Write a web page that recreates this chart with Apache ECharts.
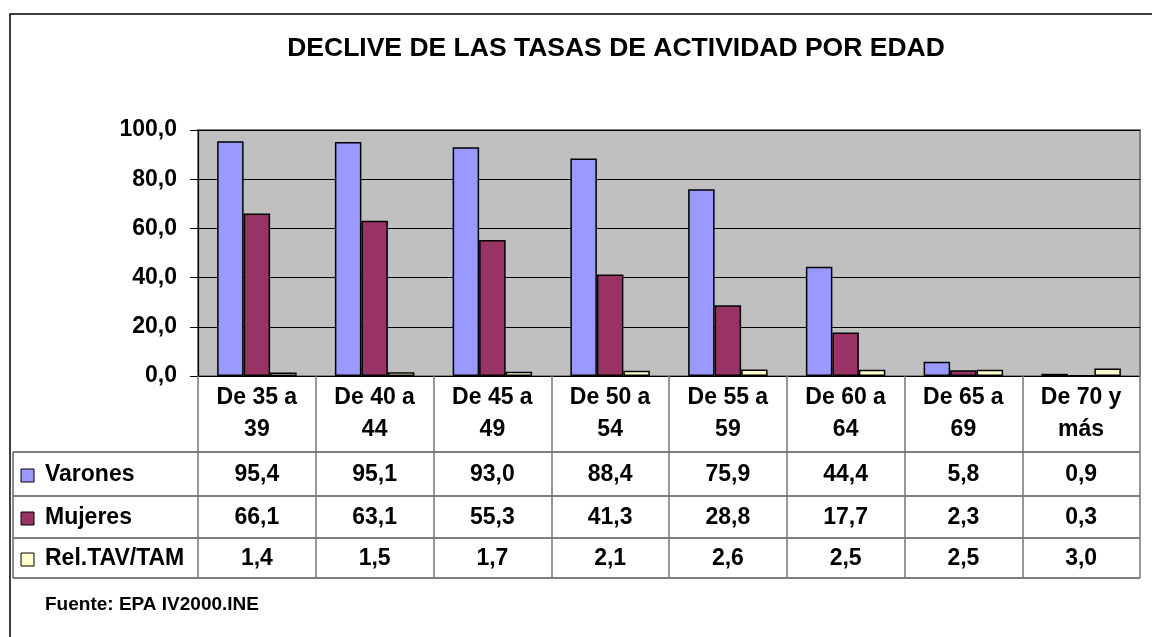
<!DOCTYPE html>
<html>
<head>
<meta charset="utf-8">
<script src="https://cdn.jsdelivr.net/npm/echarts@6/dist/echarts.min.js"></script>
<style>
  html, body { margin: 0; padding: 0; background: #fff; }
  #chart { width: 1152px; height: 637px; }
</style>
</head>
<body>
<div id="chart"></div>
<script>
// datos (EPA IV 2000)
var categorias = ['De 35 a 39', 'De 40 a 44', 'De 45 a 49', 'De 50 a 54', 'De 55 a 59', 'De 60 a 64', 'De 65 a 69', 'De 70 y más'];
var varones = [95.4, 95.1, 93.0, 88.4, 75.9, 44.4, 5.8, 0.9];
var mujeres = [66.1, 63.1, 55.3, 41.3, 28.8, 17.7, 2.3, 0.3];
var relTavTam = [1.4, 1.5, 1.7, 2.1, 2.6, 2.5, 2.5, 3.0];
var nombres = ['Varones', 'Mujeres', 'Rel.TAV/TAM'];
var colores = ['#9999ff', '#993366', '#ffffcc'];
var titulo = 'DECLIVE DE LAS TASAS DE ACTIVIDAD POR EDAD';
var fuente = 'Fuente: EPA IV2000.INE';

var FONT = 'Arial, "Liberation Sans", sans-serif';
var TXT = 23;

// geometria de la zona de grafico y de la tabla
var gLeft = 198, gRight = 1140, gTop = 130, gBottom = 376;
var tablaIzq = 13;
var filas = [452, 496, 538, 578];   // lineas horizontales de la tabla
var colW = (gRight - gLeft) / categorias.length;

function coma(v) { return v.toFixed(1).replace('.', ','); }

var myChart = echarts.init(document.getElementById('chart'));

var graficos = [];
// marco exterior
graficos.push({
  type: 'rect', shape: { x: 10, y: 14, width: 1200, height: 700 },
  style: { fill: 'none', stroke: '#000', lineWidth: 1.5 }, silent: true
});
// titulo
graficos.push({
  type: 'text', x: 616, y: 49,
  style: { text: titulo, font: 'bold 26.5px ' + FONT, fill: '#000', textAlign: 'center', textVerticalAlign: 'middle' }
});
// lineas horizontales
filas.forEach(function (y) {
  graficos.push({
    type: 'line', shape: { x1: tablaIzq, y1: y, x2: gRight, y2: y },
    style: { stroke: '#000', lineWidth: 1.2 }, silent: true
  });
});
graficos.push({
  type: 'line', shape: { x1: tablaIzq, y1: filas[0], x2: tablaIzq, y2: filas[3] },
  style: { stroke: '#666', lineWidth: 1.5 }, silent: true
});

// filas de datos
var series = [varones, mujeres, relTavTam];
series.forEach(function (vals, s) {
  var yc = (filas[s] + filas[s + 1]) / 2 + 1;
  graficos.push({
    type: 'rect', shape: { x: 21, y: yc - 6, width: 13, height: 13 },
    style: { fill: colores[s], stroke: '#000', lineWidth: 1 }
  });
  graficos.push({
    type: 'text', x: 45, y: yc,
    style: { text: nombres[s], font: 'bold ' + TXT + 'px ' + FONT, fill: '#000', textVerticalAlign: 'middle' }
  });
  vals.forEach(function (v, i) {
    graficos.push({
      type: 'text', x: gLeft + (i + 0.5) * colW, y: yc,
      style: { text: coma(v), font: 'bold ' + TXT + 'px ' + FONT, fill: '#000', textAlign: 'center', textVerticalAlign: 'middle' }
    });
  });
});
// fuente
graficos.push({
  type: 'text', x: 45, y: 605,
  style: { text: fuente, font: 'bold 19px ' + FONT, fill: '#000', textVerticalAlign: 'middle' }
});

function serie(i, data) {
  return {
    name: nombres[i],
    type: 'bar',
    data: data,
    barWidth: '22.5%',
    barGap: '0%',
    itemStyle: { color: colores[i], borderColor: '#000', borderWidth: 1.5 },
    emphasis: { disabled: true }
  };
}

var option = {
  backgroundColor: '#fff',
  animation: false,
  grid: {
    left: gLeft, right: 1152 - gRight, top: gTop, bottom: 637 - gBottom,
    show: true, backgroundColor: '#c0c0c0', borderColor: '#808080', borderWidth: 2
  },
  xAxis: {
    type: 'category',
    data: categorias,
    axisLine: { lineStyle: { color: '#000', width: 1.2 } },
    axisTick: { show: true, length: filas[3] - gBottom, lineStyle: { color: '#777', width: 1.5 } },
    axisLabel: {
      margin: 6,
      interval: 0,
      color: '#000',
      fontFamily: FONT,
      fontWeight: 'bold',
      fontSize: TXT,
      lineHeight: 32,
      formatter: function (v) {
        var k = v.lastIndexOf(' ');
        return v.slice(0, k) + '\n' + v.slice(k + 1);
      }
    }
  },
  yAxis: {
    type: 'value',
    min: 0, max: 100, interval: 20,
    axisLine: { show: true, lineStyle: { color: '#000', width: 1.2 } },
    axisTick: { show: true, length: 8, lineStyle: { color: '#000' } },
    splitLine: { lineStyle: { color: '#000', width: 1 } },
    axisLabel: {
      margin: 21,
      color: '#000',
      fontFamily: FONT,
      fontWeight: 'bold',
      fontSize: TXT,
      formatter: function (v) { return coma(v); }
    }
  },
  series: [serie(0, varones), serie(1, mujeres), serie(2, relTavTam)],
  graphic: graficos
};

myChart.setOption(option);
</script>
</body>
</html>
